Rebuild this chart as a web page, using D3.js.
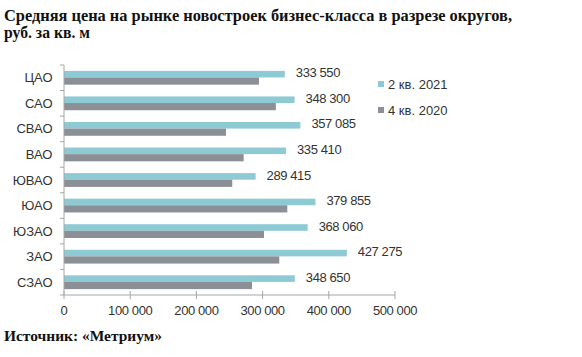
<!DOCTYPE html>
<html><head><meta charset="utf-8">
<script src="https://cdn.jsdelivr.net/npm/d3@7"></script>
<style>body{margin:0;background:#fff}svg{display:block}</style>
</head><body>
<svg id="c" width="582" height="357"></svg>
<script>
const categories = ["ЦАО","САО","СВАО","ВАО","ЮВАО","ЮАО","ЮЗАО","ЗАО","СЗАО"];
const q2_2021 = [333550,348300,357085,335410,289415,379855,368060,427275,348650];
const q4_2020 = [294500,320000,244700,271400,254200,337300,302100,325200,284000];
const seriesNames = ["2 кв. 2021","4 кв. 2020"];
const xTicks = [0,100000,200000,300000,400000,500000];
const titleLines = ["Средняя цена на рынке новостроек бизнес-класса в разрезе округов,","руб. за кв. м"];
const sourceText = "Источник: «Метриум»";

const colors = ["#8ecad3","#8b9096"];
const svg = d3.select("#c");
const fmt = v => d3.format(",")(v).replace(/,/g," ");

const x = d3.scaleLinear().domain([0,500000]).range([64,395]);
const y = d3.scaleBand().domain(categories).range([65,295]);

// title
svg.append("text").attr("x",4).attr("y",21).attr("font-family","Liberation Serif, serif")
  .attr("font-weight","bold").attr("font-size",16).attr("fill","#111")
  .attr("textLength",508).attr("lengthAdjust","spacingAndGlyphs").text(titleLines[0]);
svg.append("text").attr("x",4).attr("y",38).attr("font-family","Liberation Serif, serif")
  .attr("font-weight","bold").attr("font-size",16).attr("fill","#111")
  .attr("textLength",86).attr("lengthAdjust","spacingAndGlyphs").text(titleLines[1]);

// bars
const g = svg.append("g");
const bh = 6.6;
categories.forEach((c,i)=>{
  const y0 = y(c)+y.bandwidth()/2;
  g.append("rect").attr("x",x(0)).attr("y",y0-bh-0.3).attr("width",x(q2_2021[i])-x(0)).attr("height",bh).attr("fill",colors[0]);
  g.append("rect").attr("x",x(0)).attr("y",y0-0.3).attr("width",x(q4_2020[i])-x(0)).attr("height",bh+0.6).attr("fill",colors[1]);
  g.append("text").attr("x",x(q2_2021[i])+11).attr("y",y0-0.5)
    .attr("font-family","Liberation Sans, Arial, sans-serif").attr("font-size",13).attr("fill","#333")
    .attr("letter-spacing",-0.4).text(fmt(q2_2021[i]));
});

// y axis
const yAxis = svg.append("g").attr("transform",`translate(${x(0)},0)`);
yAxis.append("line").attr("x1",0).attr("x2",0).attr("y1",65).attr("y2",295).attr("stroke","#a6a6a6");
const bounds = categories.map(c=>y(c)).concat([295]);
bounds.forEach(b=>yAxis.append("line").attr("x1",-4).attr("x2",0).attr("y1",b).attr("y2",b).attr("stroke","#a6a6a6"));
categories.forEach(c=>{
  yAxis.append("text").attr("x",-11.5).attr("y",y(c)+y.bandwidth()/2+4.5).attr("text-anchor","end")
    .attr("font-family","Liberation Sans, Arial, sans-serif").attr("font-size",13).attr("fill","#333").text(c);
});

// x axis
const xAxis = svg.append("g").attr("transform","translate(0,295)");
xAxis.append("line").attr("x1",x(0)).attr("x2",x(500000)).attr("y1",0).attr("y2",0).attr("stroke","#a6a6a6");
xTicks.forEach(t=>{
  xAxis.append("line").attr("x1",x(t)).attr("x2",x(t)).attr("y1",-4).attr("y2",4).attr("stroke","#a6a6a6");
  xAxis.append("text").attr("x",x(t)).attr("y",20).attr("text-anchor","middle")
    .attr("font-family","Liberation Sans, Arial, sans-serif").attr("font-size",13).attr("fill","#333")
    .attr("letter-spacing",-0.4).text(fmt(t));
});

// legend
seriesNames.forEach((n,i)=>{
  const ly = 84 + i*26;
  svg.append("rect").attr("x",378).attr("y",ly-3).attr("width",6).attr("height",6).attr("fill",colors[i]);
  svg.append("text").attr("x",388).attr("y",ly+4.5)
    .attr("font-family","Liberation Sans, Arial, sans-serif").attr("font-size",13).attr("fill","#333").text(n);
});

// source
svg.append("text").attr("x",4).attr("y",341).attr("font-family","Liberation Serif, serif")
  .attr("font-weight","bold").attr("font-size",15).attr("fill","#111")
  .attr("textLength",158).attr("lengthAdjust","spacingAndGlyphs").text(sourceText);
</script>
</body></html>
